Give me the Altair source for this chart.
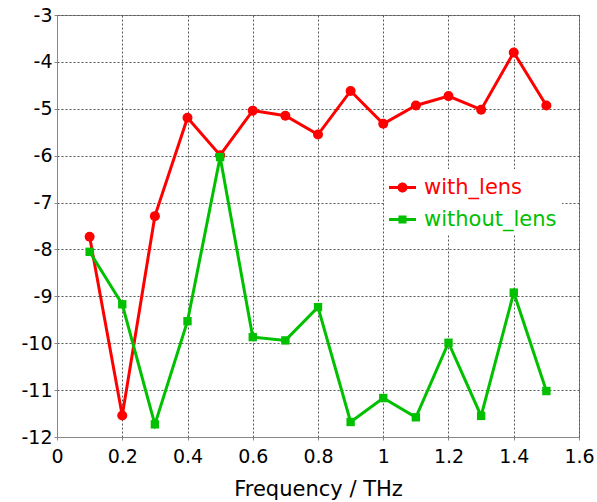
import altair as alt
import pandas as pd

# Measured transmission (dB) vs frequency
freq = [0.1, 0.2, 0.3, 0.4, 0.5, 0.6, 0.7, 0.8, 0.9, 1.0, 1.1, 1.2, 1.3, 1.4, 1.5]
with_lens = [-7.73, -11.54, -7.29, -5.19, -5.99, -5.04, -5.15, -5.55, -4.62,
             -5.32, -4.93, -4.73, -5.02, -3.80, -4.93]
without_lens = [-8.05, -9.17, -11.73, -9.53, -6.03, -9.87, -9.94, -9.23, -11.68,
                -11.17, -11.58, -9.99, -11.55, -8.92, -11.02]

series_names = ["with_lens", "without_lens"]
series_colors = ["#ff0000", "#00c000"]
x_ticks = [0, 0.2, 0.4, 0.6, 0.8, 1.0, 1.2, 1.4, 1.6]
y_ticks = [-12, -11, -10, -9, -8, -7, -6, -5, -4, -3]

df = pd.concat([
    pd.DataFrame({"freq": freq, "value": with_lens, "series": series_names[0]}),
    pd.DataFrame({"freq": freq, "value": without_lens, "series": series_names[1]}),
])

FONT = "DejaVu Sans"

x_enc = alt.X("freq:Q",
              scale=alt.Scale(domain=[0, 1.6], nice=False),
              axis=alt.Axis(values=x_ticks, labelExpr="'' + datum.value",
                            title="Frequency / THz"))
y_enc = alt.Y("value:Q",
              scale=alt.Scale(domain=[-12, -3], nice=False),
              axis=alt.Axis(values=y_ticks, labelExpr="'' + datum.value", title=None))
color_scale = alt.Scale(domain=series_names, range=series_colors)

# legend glyphs: a short line segment with the series marker on it
legend_shapes = [
    "M-1,-0.11H1V0.11H-1Z M-0.37,0A0.37,0.37 0 1,1 0.37,0A0.37,0.37 0 1,1 -0.37,0Z",
    "M-1,-0.11H1V0.11H-1Z M-0.3,-0.3H0.3V0.3H-0.3Z",
]

# carries only the legend; no marks are drawn by this layer
legend_layer = alt.Chart(df).transform_filter("false").mark_point(
    filled=True, opacity=1
).encode(
    x=x_enc, y=y_enc,
    color=alt.Color("series:N", scale=color_scale, legend=alt.Legend(
        title=None, orient="none", legendX=327, legendY=154,
        fillColor="white", padding=5, symbolSize=729, symbolStrokeWidth=0,
        symbolOpacity=1, rowPadding=8, labelOffset=8,
        labelFont=FONT, labelFontSize=21,
        labelColor=alt.ExprRef("datum.label == 'with_lens' ? '#ff0000' : '#00c000'"),
    )),
    shape=alt.Shape("series:N", scale=alt.Scale(domain=series_names, range=legend_shapes),
                    legend=alt.Legend(title=None)),
)

lines = alt.Chart(df).mark_line(strokeWidth=3).encode(
    x=x_enc, y=y_enc,
    color=alt.Color("series:N", scale=color_scale, legend=None),
    detail="series:N",
)

circles = alt.Chart(df).transform_filter(
    alt.datum.series == "with_lens"
).mark_point(filled=True, opacity=1, size=100, shape="circle").encode(
    x=x_enc, y=y_enc,
    color=alt.Color("series:N", scale=color_scale, legend=None),
)

squares = alt.Chart(df).transform_filter(
    alt.datum.series == "without_lens"
).mark_point(filled=True, opacity=1, size=70, shape="square").encode(
    x=x_enc, y=y_enc,
    color=alt.Color("series:N", scale=color_scale, legend=None),
)

chart = alt.layer(legend_layer, lines, circles, squares).properties(
    width=522, height=422,
    autosize=alt.AutoSizeParams(type="none"),
    padding={"left": 57, "top": 15, "right": 18, "bottom": 65},
    background="white",
).configure_view(
    stroke="#888888", strokeWidth=1,
).configure_axis(
    grid=True, gridColor="#555555", gridDash=[2, 2], gridWidth=1,
    domainColor="#888888", domainWidth=1,
    tickColor="#888888", tickSize=3, labelFlush=False,
    labelFont=FONT, labelFontSize=19, labelColor="#000000",
    titleFont=FONT, titleFontSize=21, titleFontWeight="normal", titleColor="#000000",
).configure_axisX(
    labelPadding=7, titlePadding=12,
).configure_axisY(
    labelPadding=2,
)

chart.save("out.html", embed_options={"renderer": "svg", "actions": False})
